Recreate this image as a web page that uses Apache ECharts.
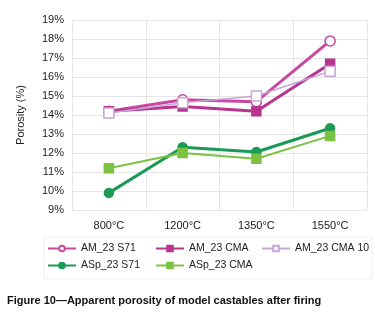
<!DOCTYPE html>
<html><head><meta charset="utf-8">
<script src="https://cdn.jsdelivr.net/npm/echarts@6/dist/echarts.min.js"></script>
<style>html,body{margin:0;padding:0;background:#fff}#c{width:375px;height:318px}</style>
</head><body><div id="c"></div>
<script>
const categories = ['800°C','1200°C','1350°C','1550°C'];
const amS71 = [14.2, 14.8, 14.7, 17.9];
const amCMA = [14.2, 14.45, 14.2, 16.7];
const amCMA10 = [14.1, 14.65, 15.0, 16.3];
const aspS71 = [9.9, 12.3, 12.05, 13.3];
const aspCMA = [11.2, 12.0, 11.7, 12.9];
const seriesNames = ['AM_23 S71','AM_23 CMA','AM_23 CMA 10','ASp_23 S71','ASp_23 CMA'];
const caption = 'Figure 10\u2014Apparent porosity of model castables after firing';

const colors = ['#c8489f','#b8358f','#c6a6d8','#1a9a55','#7cc242'];
const font = 'Liberation Sans, Arial, sans-serif';
function mk(name, data, color, symbol, fill, width, size){
  return {name, type:'line', data, symbol, symbolSize:size,
    lineStyle:{color, width}, itemStyle:{color: fill ? color : '#fff', borderColor: color, borderWidth: 1.5},
    emphasis:{disabled:true}};
}
const legendPos = [[47,243],[155,243],[261,243],[47,260],[155,260]];
const chart = echarts.init(document.getElementById('c'), null, {renderer:'canvas'});
chart.setOption({
  animation:false,
  backgroundColor:'#fff',
  grid:{left:72, right:8, top:20, bottom:108},
  legend: legendPos.map((p,i)=>({
    data:[seriesNames[i]], left:p[0], top:p[1], itemWidth:28, itemHeight:7, itemGap:0, padding:0,
    textStyle:{fontFamily:font, fontSize:10.5, color:'#222'}, selectedMode:false
  })),
  xAxis:{type:'category', data:categories, boundaryGap:true,
    axisLine:{show:false}, axisTick:{show:false},
    splitLine:{show:true, lineStyle:{color:'#e6e6e6'}},
    axisLabel:{fontFamily:font, fontSize:11, color:'#222', margin:10}},
  yAxis:{type:'value', min:9, max:19, interval:1,
    name:'Porosity (%)', nameLocation:'middle', nameGap:46, nameRotate:90,
    nameTextStyle:{fontFamily:font, fontSize:11, color:'#222'},
    axisLine:{show:false}, axisTick:{show:false},
    splitLine:{lineStyle:{color:'#e6e6e6'}},
    axisLabel:{fontFamily:font, fontSize:11, color:'#222', margin:8, formatter: v=>v+'%'}},
  graphic:[
    {type:'rect', shape:{x:44,y:237,width:328,height:42}, style:{fill:'none', stroke:'#eeeeee'}},
    {type:'text', left:7, top:295, style:{text:caption, font:'bold 11px '+font, fill:'#111'}}
  ],
  series:[
    mk(seriesNames[0], amS71, colors[0], 'circle', false, 3, 10),
    mk(seriesNames[1], amCMA, colors[1], 'rect', true, 3, 9),
    mk(seriesNames[2], amCMA10, colors[2], 'rect', false, 1.5, 10),
    mk(seriesNames[3], aspS71, colors[3], 'circle', true, 3, 9),
    mk(seriesNames[4], aspCMA, colors[4], 'rect', true, 2, 9)
  ]
});
</script></body></html>
